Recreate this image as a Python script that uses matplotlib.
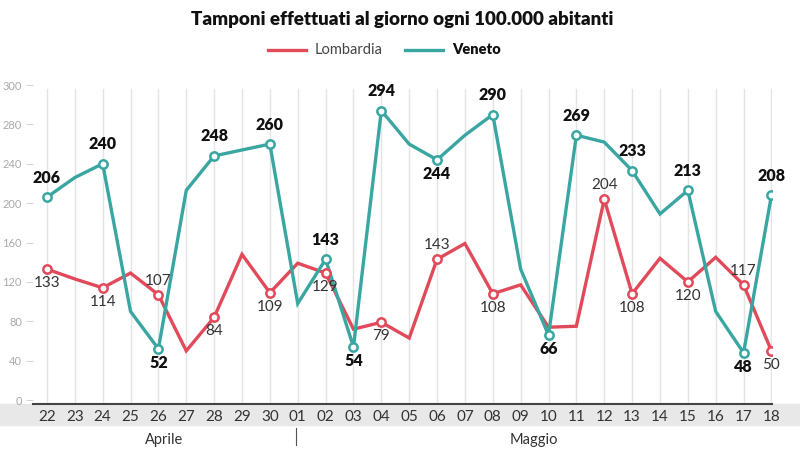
import matplotlib.pyplot as plt
from matplotlib.lines import Line2D
from matplotlib.patches import Rectangle

plt.rcParams['font.family'] = ['Lato', 'DejaVu Sans']

days = ["22", "23", "24", "25", "26", "27", "28", "29", "30",
        "01", "02", "03", "04", "05", "06", "07", "08", "09", "10",
        "11", "12", "13", "14", "15", "16", "17", "18"]
months = ["Aprile", "Maggio"]

lombardia = [133, 123, 114, 129, 107, 50, 84, 148, 109,
             139, 129, 72, 79, 63, 143, 159, 108, 117, 74,
             75, 204, 108, 144, 120, 145, 117, 50]
veneto = [206, 226, 240, 90, 52, 213, 248, 254, 260,
          98, 143, 54, 294, 260, 244, 269, 290, 133, 66,
          269, 262, 233, 189, 213, 90, 48, 208]

# points with a value label: index -> 'a' above / 'b' below
lomb_labels = {0: 'b', 2: 'b', 4: 'a', 6: 'b', 8: 'b', 10: 'b', 12: 'b', 14: 'a',
               16: 'b', 20: 'a', 21: 'b', 23: 'b', 25: 'a', 26: 'b'}
ven_labels = {0: 'a', 2: 'a', 4: 'b', 6: 'a', 8: 'a', 10: 'a', 11: 'b', 12: 'a',
              14: 'b', 16: 'a', 18: 'b', 19: 'a', 21: 'a', 23: 'a', 25: 'b', 26: 'a'}

ytick_vals = [0, 40, 80, 120, 160, 200, 240, 280, 320]
ytick_text = ["0", "40", "80", "120", "160", "200", "240", "280", "300"]

red = "#e04a5a"
teal = "#3aa6a1"

W, H = 800, 455
fig = plt.figure(figsize=(8, 4.55), dpi=100)
ax = fig.add_axes([33 / W, (H - 404) / H, (772 - 33) / W, (404 - 85) / H])

x = list(range(len(days)))

# gray band behind x tick labels
band = Rectangle((0, (H - 425) / H), 1, 21 / H, transform=fig.transFigure,
                 color="#e8e8e8", zorder=-5)
fig.add_artist(band)

for xi in x:
    ax.axvline(xi, ymin=0, ymax=(316 - (-4)) / 324, color="#e4e4e4", lw=1, zorder=1)

ax.plot(x, lombardia, color=red, lw=2.4, zorder=3, solid_joinstyle='miter')
ax.plot(x, veneto, color=teal, lw=2.4, zorder=3, solid_joinstyle='miter')

for i, pos in lomb_labels.items():
    ax.plot(x[i], lombardia[i], 'o', ms=6, mfc='white', mec=red, mew=1.8, zorder=4)
    off = 10 if pos == 'a' else -10
    ax.annotate(str(lombardia[i]), (x[i], lombardia[i]), xytext=(0, off),
                textcoords='offset points', ha='center', va='center',
                fontsize=11, color="#333333", zorder=5)

for i, pos in ven_labels.items():
    ax.plot(x[i], veneto[i], 'o', ms=6, mfc='white', mec=teal, mew=1.8, zorder=4)
    off = 14 if pos == 'a' else -10
    ax.annotate(str(veneto[i]), (x[i], veneto[i]), xytext=(0, off),
                textcoords='offset points', ha='center', va='center',
                fontsize=11.5, fontweight='heavy', color="#111111", zorder=5)

ax.set_xlim(-0.5, 26.02)
ax.set_ylim(-4, 320)
ax.set_xticks(x)
ax.set_xticklabels(days, fontsize=11, color="#333333")
ax.set_yticks(ytick_vals)
ax.set_yticklabels(ytick_text, fontsize=8, color="#aaaaaa")
ax.tick_params(axis='x', length=0, pad=4)
ax.tick_params(axis='y', length=5, width=0.6, color="#cccccc", pad=3)
for s in ['top', 'right', 'left']:
    ax.spines[s].set_visible(False)
ax.spines['bottom'].set_color("#444444")
ax.spines['bottom'].set_linewidth(1.5)
ax.set_facecolor('none')

# month labels and separator
fig.text(164 / W, (H - 440) / H, months[0], ha='center', va='center', fontsize=10.5, color="#333333")
fig.text(534 / W, (H - 440) / H, months[1], ha='center', va='center', fontsize=10.5, color="#333333")
fig.add_artist(Line2D([296 / W, 296 / W], [(H - 428) / H, (H - 445) / H], color="#555555", lw=0.8))

# title and legend
fig.text(402 / W, (H - 20) / H, "Tamponi effettuati al giorno ogni 100.000 abitanti",
         ha='center', va='center', fontsize=13.5, fontweight='heavy', color="#111111")
fig.add_artist(Line2D([268 / W, 306 / W], [(H - 50) / H] * 2, color=red, lw=2.4))
fig.text(315 / W, (H - 50) / H, "Lombardia", ha='left', va='center', fontsize=10.5,
         color="#444444")
fig.add_artist(Line2D([405 / W, 443 / W], [(H - 50) / H] * 2, color=teal, lw=2.4))
fig.text(452 / W, (H - 50) / H, "Veneto", ha='left', va='center', fontsize=10.5,
         fontweight='heavy', color="#111111")

fig.savefig("out.png", dpi=100)
